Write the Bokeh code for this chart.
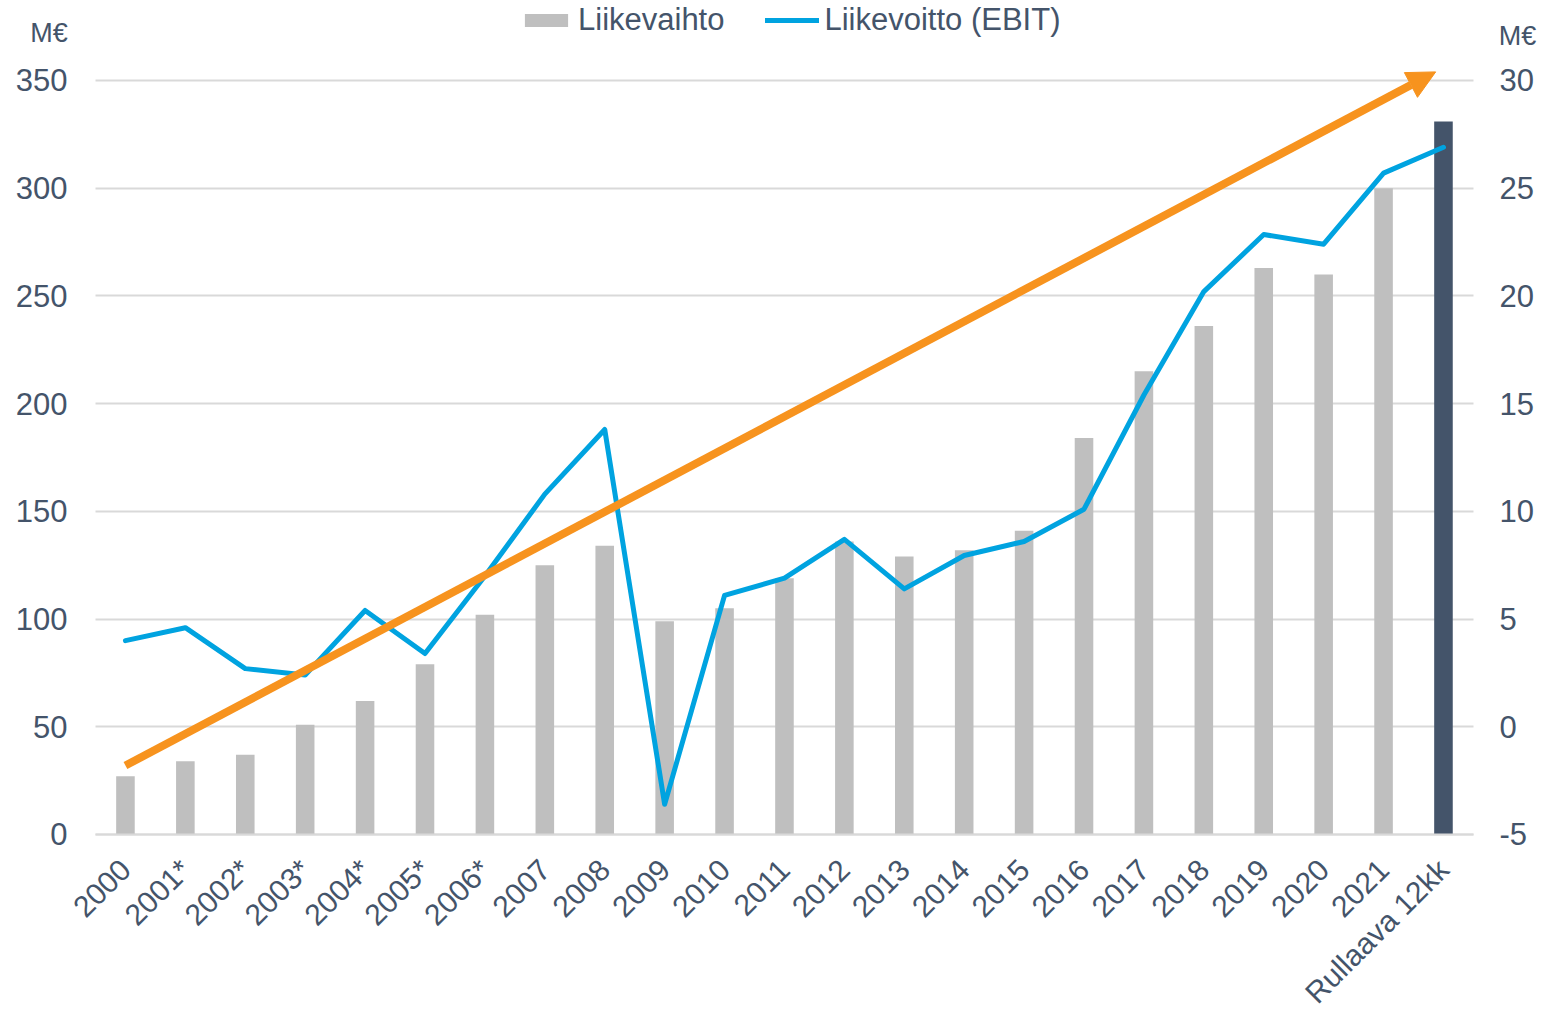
from math import pi
from bokeh.plotting import figure
from bokeh.models import (ColumnDataSource, Range1d, LinearAxis, FixedTicker, Grid,
                          SingleIntervalTicker, PrintfTickFormatter, Arrow, NormalHead,
                          Legend, LegendItem, Label)
from bokeh.embed import file_html
from bokeh.resources import INLINE

categories = ["2000", "2001*", "2002*", "2003*", "2004*", "2005*", "2006*", "2007",
              "2008", "2009", "2010", "2011", "2012", "2013", "2014", "2015", "2016",
              "2017", "2018", "2019", "2020", "2021", "Rullaava 12kk"]
liikevaihto = [27, 34, 37, 51, 62, 79, 102, 125, 134, 99, 105, 119, 136, 129, 132,
               141, 184, 215, 236, 263, 260, 300, 331]
liikevoitto = [4.0, 4.6, 2.7, 2.4, 5.4, 3.4, 7.0, 10.8, 13.8, -3.6, 6.1, 6.9, 8.7, 6.4,
               7.95, 8.6, 10.1, 15.4, 20.2, 22.85, 22.4, 25.7, 26.9]
bar_colors = ["#BFBFBF"] * 22 + ["#44546A"]
# trend arrow (left axis values) from the first category to just before the last one
trend_values = [32, 354]
trend_categories = [0, 21.87]  # category index positions
unit_label = "M€"
left_bounds = (0, 350)
right_bounds = (-5, 30)

TXT = "#44546A"
FONT = "Liberation Sans"
BLUE = "#00A3E0"
ORANGE = "#F7931E"
GRID = "#D9D9D9"

n = len(categories)
xpos = [i + 0.5 for i in range(n)]
src = ColumnDataSource(dict(x=xpos, lv=liikevaihto, ebit=liikevoitto, color=bar_colors))

# frame covers the whole canvas; axes are pinned with fixed_location
p = figure(width=1542, height=1015, x_range=Range1d(-1.5857, 24.153),
           y_range=Range1d(-84.02, 387.135), output_backend="svg", toolbar_location=None,
           min_border=0, x_axis_type=None, y_axis_type=None)
p.outline_line_color = None
p.extra_y_ranges = {"right": Range1d(-13.402, 33.7135)}

bars = p.vbar(x="x", top="lv", width=0.31, fill_color="color", line_color=None, source=src)
line = p.line(x="x", y="ebit", line_color=BLUE, line_width=5, line_cap="round",
              line_join="round", y_range_name="right", source=src)

arrow = Arrow(end=NormalHead(size=28, fill_color=ORANGE, line_color=ORANGE, line_width=1),
              x_start=trend_categories[0] + 0.5, y_start=trend_values[0],
              x_end=trend_categories[1] + 0.5, y_end=trend_values[1],
              line_color=ORANGE, line_width=8, line_cap="butt")
p.add_layout(arrow)

# x axis (categories)
xa = LinearAxis(ticker=FixedTicker(ticks=xpos), fixed_location=0, bounds=(0, n),
                major_label_overrides={x: c for x, c in zip(xpos, categories)})
xa.major_label_orientation = pi / 4
xa.axis_line_color = GRID
xa.axis_line_width = 2
xa.major_tick_line_color = None
xa.minor_tick_line_color = None
xa.major_label_text_font = FONT
xa.major_label_text_font_size = "30px"
xa.major_label_text_color = TXT
xa.major_label_standoff = 24
p.add_layout(xa, "below")

# left axis
la = LinearAxis(ticker=SingleIntervalTicker(interval=50), formatter=PrintfTickFormatter(format="%d"),
                fixed_location=0, bounds=left_bounds)
# right axis
ra = LinearAxis(y_range_name="right", ticker=SingleIntervalTicker(interval=5),
                formatter=PrintfTickFormatter(format="%d"), fixed_location=n, bounds=right_bounds)
for ax, so in [(la, 22), (ra, 20)]:
    ax.axis_line_color = None
    ax.major_tick_line_color = None
    ax.minor_tick_line_color = None
    ax.major_label_text_font = FONT
    ax.major_label_text_font_size = "31px"
    ax.major_label_text_color = TXT
    ax.major_label_standoff = so
p.add_layout(la, "left")
p.add_layout(ra, "right")

p.ygrid.visible = False
p.xgrid.visible = False
yg = Grid(dimension=1, ticker=la.ticker, bounds=left_bounds, cross_bounds=(0, n),
          grid_line_color=GRID, grid_line_width=2)
p.add_layout(yg)

legend = Legend(items=[LegendItem(label="Liikevaihto", renderers=[bars], index=0),
                       LegendItem(label="Liikevoitto (EBIT)", renderers=[line])],
                orientation="horizontal", location=(519, 977),
                glyph_width=54, glyph_height=16, label_standoff=5, spacing=41,
                padding=0, margin=0, border_line_color=None, background_fill_alpha=0,
                label_text_font=FONT, label_text_font_size="31px", label_text_color=TXT)
p.add_layout(legend, "center")

for xx, yy in [(48.5, 983), (1517, 980)]:
    p.add_layout(Label(x=xx, y=yy, x_units="screen", y_units="screen", text=unit_label,
                       text_font=FONT, text_font_size="27px", text_color=TXT,
                       text_align="center", text_baseline="middle"))

open("out.html", "w").write(file_html(p, INLINE))
